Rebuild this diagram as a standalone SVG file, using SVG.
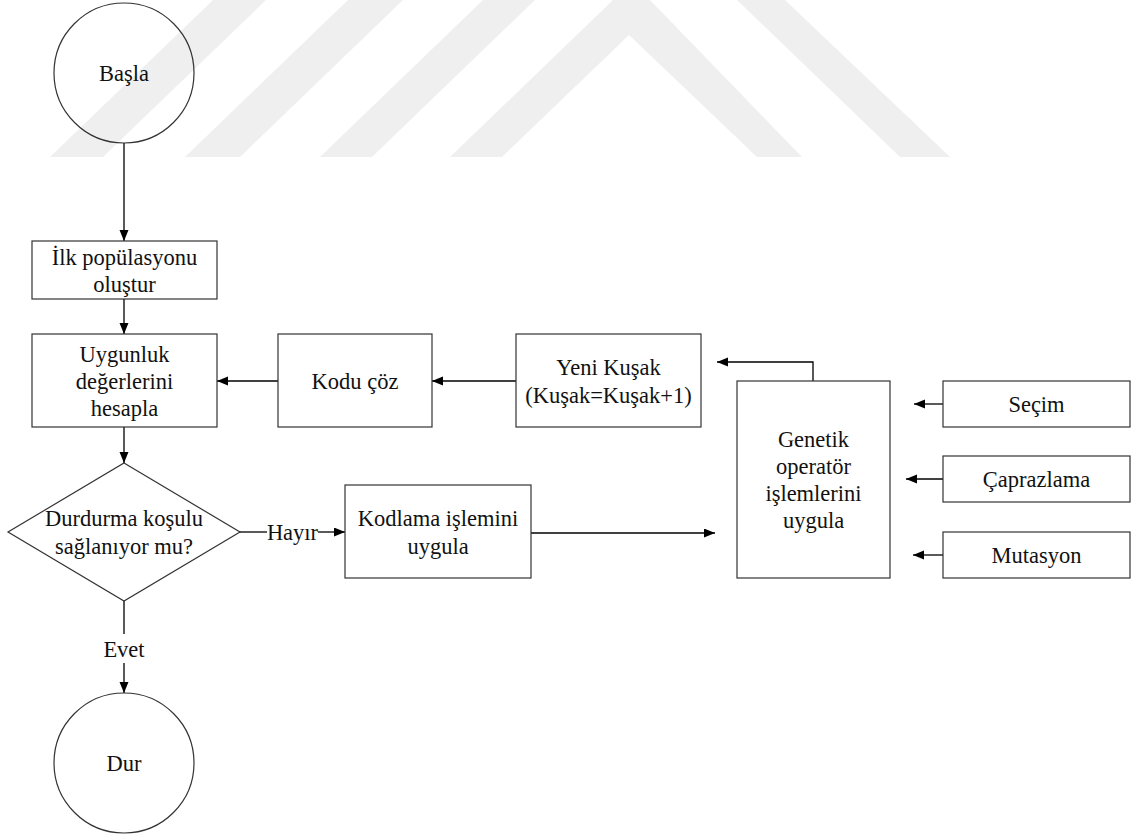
<svg xmlns="http://www.w3.org/2000/svg" width="1134" height="834" viewBox="0 0 1134 834">
<style>
.bx{fill:none;stroke:#333;stroke-width:1.2}
.t{font-family:'Liberation Serif','DejaVu Serif',serif;font-size:22.5px;fill:#111;text-anchor:middle;dominant-baseline:central}
.c{fill:none;stroke:#000;stroke-width:1.3}
.wm{fill:#efefef}
</style>
<defs>
<marker id="ah" markerUnits="userSpaceOnUse" markerWidth="12" markerHeight="10" refX="11" refY="4.5" orient="auto">
<path d="M0,0 L11,4.5 L0,9 z" fill="#000"/>
</marker>
</defs>
<rect width="1134" height="834" fill="#fff"/>
<g id="watermark">
<polygon class="wm" points="50,157 213,0 266,0 103,157"/>
<polygon class="wm" points="185,157 348,0 403,0 240,157"/>
<polygon class="wm" points="320,157 483,0 535,0 372,157"/>
<polygon class="wm" points="450,157 613,0 650,0 802,157 757,157 629,35 502,157"/>
<polygon class="wm" points="737,0 785,0 950,157 900,157"/>
</g>
<g id="connectors" font-family="Liberation Serif, serif">
<line class="c" x1="124" y1="143" x2="124" y2="241" marker-end="url(#ah)"/>
<line class="c" x1="124" y1="299" x2="124" y2="334" marker-end="url(#ah)"/>
<line class="c" x1="124" y1="427" x2="124" y2="463" marker-end="url(#ah)"/>
<line class="c" x1="124" y1="601" x2="124" y2="634"/>
<line class="c" x1="124" y1="663" x2="124" y2="693" marker-end="url(#ah)"/>
<line class="c" x1="239" y1="532" x2="267" y2="532"/>
<line class="c" x1="318" y1="532" x2="345" y2="532" marker-end="url(#ah)"/>
<line class="c" x1="531" y1="533" x2="715" y2="533" marker-end="url(#ah)"/>
<line class="c" x1="278" y1="381" x2="217" y2="381" marker-end="url(#ah)"/>
<line class="c" x1="516" y1="381" x2="432" y2="381" marker-end="url(#ah)"/>
<path class="c" d="M813,381 V362 H717" marker-end="url(#ah)"/>
<line class="c" x1="943" y1="404" x2="914" y2="404" marker-end="url(#ah)"/>
<line class="c" x1="943" y1="479" x2="906" y2="479" marker-end="url(#ah)"/>
<line class="c" x1="943" y1="555" x2="913" y2="555" marker-end="url(#ah)"/>
<text class="t" x="292.5" y="532">Hayır</text>
<text class="t" x="124" y="649">Evet</text>
</g>
<g id="basla">
<circle class="bx" cx="124" cy="73" r="70"/>
<text class="t" x="124" y="73">Başla</text>
</g>
<g id="ilk">
<rect class="bx" x="32" y="241" width="185" height="58"/>
<text class="t" x="124.5" y="257">İlk popülasyonu</text>
<text class="t" x="124.5" y="284">oluştur</text>
</g>
<g id="uygunluk">
<rect class="bx" x="32" y="334" width="185" height="93"/>
<text class="t" x="124.5" y="354.5">Uygunluk</text>
<text class="t" x="124.5" y="381.5">değerlerini</text>
<text class="t" x="124.5" y="408.5">hesapla</text>
</g>
<g id="kodu-coz">
<rect class="bx" x="278" y="334" width="154" height="93"/>
<text class="t" x="355" y="381">Kodu çöz</text>
</g>
<g id="yeni-kusak">
<rect class="bx" x="516" y="334" width="185" height="93"/>
<text class="t" x="608.5" y="367">Yeni Kuşak</text>
<text class="t" x="608.5" y="395">(Kuşak=Kuşak+1)</text>
</g>
<g id="durdurma">
<polygon class="bx" points="124,463 240,532 124,601 8,532"/>
<text class="t" x="124" y="518">Durdurma koşulu</text>
<text class="t" x="124" y="546">sağlanıyor mu?</text>
</g>
<g id="dur">
<circle class="bx" cx="124" cy="763" r="70"/>
<text class="t" x="124" y="763">Dur</text>
</g>
<g id="kodlama">
<rect class="bx" x="345" y="485" width="186" height="93"/>
<text class="t" x="438" y="518">Kodlama işlemini</text>
<text class="t" x="438" y="546">uygula</text>
</g>
<g id="genetik">
<rect class="bx" x="737" y="381" width="153" height="197"/>
<text class="t" x="813.5" y="439">Genetik</text>
<text class="t" x="813.5" y="466">operatör</text>
<text class="t" x="813.5" y="493">işlemlerini</text>
<text class="t" x="813.5" y="520">uygula</text>
</g>
<g id="secim">
<rect class="bx" x="943" y="381" width="187" height="46"/>
<text class="t" x="1036.5" y="404">Seçim</text>
</g>
<g id="caprazlama">
<rect class="bx" x="943" y="456" width="187" height="46"/>
<text class="t" x="1036.5" y="479">Çaprazlama</text>
</g>
<g id="mutasyon">
<rect class="bx" x="943" y="532" width="187" height="46"/>
<text class="t" x="1036.5" y="555">Mutasyon</text>
</g>
</svg>
